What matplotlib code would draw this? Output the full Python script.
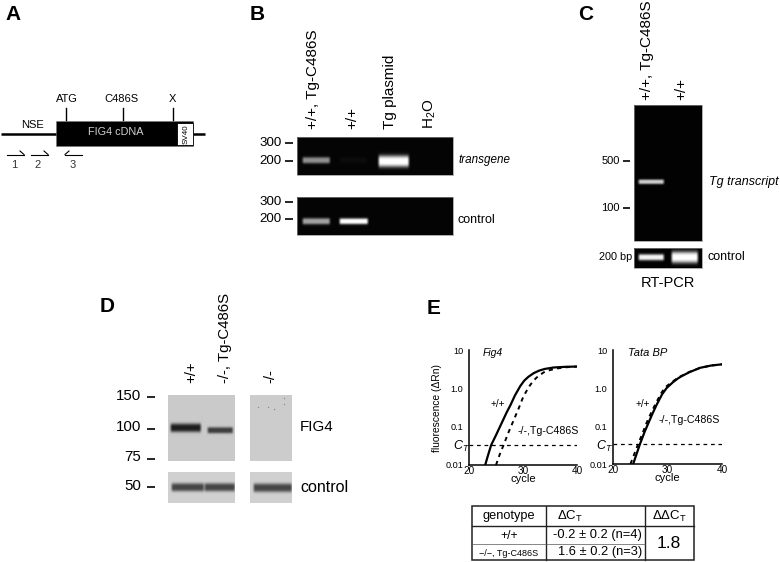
import numpy as np
import matplotlib
matplotlib.use("Agg")
import matplotlib.pyplot as plt
from matplotlib.patches import Rectangle

plt.rcParams["font.family"] = ["Liberation Sans", "DejaVu Sans"]
plt.rcParams["mathtext.fontset"] = "custom"
plt.rcParams["mathtext.rm"] = "Liberation Sans"
plt.rcParams["mathtext.it"] = "Liberation Sans:italic"

# Panel B gels, band brightness per lane
b_lane_labels = ["+/+, Tg-C486S", "+/+", "Tg plasmid", r"$\mathrm{H_2O}$"]
b_transgene = [0.55, 0.03, 1.0, 0.0]
b_control = [0.62, 1.0, 0.0, 0.0]
b_sizes_top = ["300", "200"]
b_sizes_bottom = ["300", "200"]

# Panel C gels
c_lane_labels = ["+/+, Tg-C486S", "+/+"]
c_transcript = [0.8, 0.0]
c_control = [0.95, 1.0]
c_sizes = ["500", "100"]

# Panel D blots (band darkness)
d_lane_labels = ["+/+", "-/-, Tg-C486S", "-/-"]
d_fig4 = [0.68, 0.55, 0.0]
d_control = [0.55, 0.55, 0.55]
d_sizes = ["150", "100", "75", "50"]

# Panel E, fluorescence curves
fig4_cycle = [23.0, 23.5, 24.1, 25.0, 26.0, 27.0, 27.7, 28.5, 29.5, 30.25, 31.0, 32.0, 33.0, 34.0, 35.7, 38.0, 40.0]
fig4_wt = [0.01, 0.0175, 0.033, 0.06, 0.12, 0.24, 0.37, 0.65, 1.15, 1.6, 2.0, 2.5, 2.9, 3.2, 3.5, 3.65, 3.7]
fig4_tg_cycle = [25.0, 25.7, 26.4, 27.2, 28.0, 29.2, 30.0, 31.0, 31.8, 32.5, 33.8, 35.0, 36.3, 38.0, 40.0]
fig4_tg = [0.01, 0.019, 0.033, 0.065, 0.12, 0.3, 0.58, 1.05, 1.5, 1.9, 2.6, 3.0, 3.3, 3.55, 3.7]
tata_cycle = [23.7, 24.9, 25.8, 26.5, 27.3, 28.0, 29.0, 29.85, 31.0, 32.0, 32.6, 34.0, 36.0, 38.0, 40.0]
tata_wt = [0.01, 0.032, 0.07, 0.12, 0.22, 0.36, 0.68, 1.0, 1.42, 1.82, 2.05, 2.6, 3.4, 3.9, 4.2]
tata_tg_cycle = [23.2, 24.6, 25.6, 26.2, 27.1, 27.8, 28.8, 29.6, 31.0, 32.0, 32.6, 34.0, 36.0, 38.0, 40.0]
tata_tg = [0.01, 0.033, 0.075, 0.125, 0.24, 0.38, 0.72, 1.05, 1.5, 1.9, 2.1, 2.65, 3.4, 3.9, 4.2]
ct_level = 0.033

# Panel E table
table_header = ["genotype", r"$\Delta\mathrm{C_T}$", r"$\Delta\Delta\mathrm{C_T}$"]
table_genotype = ["+/+", "\u2212/\u2212, Tg-C486S"]
table_delta = ["-0.2 \u00b1 0.2 (n=4)", "1.6 \u00b1 0.2 (n=3)"]
table_ddct = "1.8"


fig = plt.figure(figsize=(7.8, 5.62), dpi=100)
ax = fig.add_axes([0, 0, 1, 1])
ax.set_xlim(0, 780)
ax.set_ylim(562, 0)
ax.axis("off")


def text(x, y, s, size=8, ha="left", va="center", **kw):
    ax.text(x, y, s, fontsize=size, ha=ha, va=va, **kw)


def band_image(box, spans, ys, levels, half, bg, sign, border=True):
    # box is x0, x1, y0, y1 in figure pixels
    x0, x1, y0, y1 = box
    xx, yy = np.meshgrid(np.arange(x0, x1, 0.5), np.arange(y0, y1, 0.5))
    img = np.full(xx.shape, bg, dtype=float)
    for (a, b), yc, lev, h in zip(spans, ys, levels, half):
        hx = np.clip((xx - a) / 3, 0, 1) * np.clip((b - xx) / 3, 0, 1)
        hy = np.exp(-(np.abs(yy - yc) / h) ** 3)
        img = img + sign * lev * hx * hy
    ax.imshow(img, extent=(x0, x1, y1, y0), cmap="gray", vmin=0, vmax=1,
              aspect="auto", interpolation="bilinear", zorder=2)
    if border:
        ax.add_patch(Rectangle((x0, y0), x1 - x0, y1 - y0, fill=False,
                               ec="#8a8a8a", lw=0.5, zorder=3))


def dash(x0, x1, y, lw=1.2):
    ax.plot([x0, x1], [y, y], color="black", lw=lw, solid_capstyle="butt")


# Panel letters
for letter, x, y in [("A", 13, 14), ("B", 257, 14), ("C", 586, 14), ("D", 107, 307), ("E", 434, 308)]:
    text(x, y, letter, size=15, ha="center", weight="bold")


# Panel A
ax.plot([1, 205], [133.5, 133.5], color="black", lw=1.8, solid_capstyle="butt", zorder=1)
ax.add_patch(Rectangle((56, 121), 137, 25, fc="black", ec="#777777", lw=0.4, zorder=2))
ax.add_patch(Rectangle((177, 122.5), 16, 22.5, fc="white", ec="black", lw=0.6, zorder=3))
text(186, 134, "SV40", size=5.8, ha="center", rotation=90, zorder=4)
text(116, 132, "FIG4 cDNA", size=7.8, ha="center", color="#d0d0d0", zorder=4)
text(32, 125, "NSE", size=8, ha="center")
for x in [66, 123, 173]:
    ax.plot([x, x], [108, 120], color="black", lw=1.0)
text(67, 99.5, "ATG", size=8, ha="center")
text(121.5, 99.5, "C486S", size=8, ha="center")
text(172, 99.5, "X", size=8, ha="center")
for x0, x1, tip, s, sx in [(7, 24, 1, "1", 14), (31, 48, 1, "2", 38), (82, 65, -1, "3", 73)]:
    ax.plot([x0, x1], [154.5, 154.5], color="black", lw=0.8)
    ax.plot([x1 - tip * 4, x1], [151, 154.5], color="black", lw=0.8)
    text(sx, 165.5, s, size=8, ha="center", color="#333333")


# Panel B
b_spans_top = [(301, 331), (339, 368), (377, 410), (418, 448)]
b_spans_bottom = [(301, 331), (338, 369), (377, 410), (418, 448)]
band_image((297, 453, 137, 175), b_spans_top, [160, 160, 161, 160], b_transgene, [3.2, 3, 5.8, 3], 0.02, 1)
band_image((297, 453, 197, 235), b_spans_bottom, [221, 221, 221, 221], b_control, [3.2, 3, 3, 3], 0.02, 1)
for y, s in zip([143, 161], b_sizes_top):
    text(282, y, s, size=9.6, ha="right")
    dash(285, 293, y)
for y, s in zip([202, 219], b_sizes_bottom):
    text(282, y, s, size=9.6, ha="right")
    dash(285, 293, y)
for x, s in zip([313, 352, 390, 430], b_lane_labels):
    text(x, 129, s, size=11, ha="center", va="bottom", rotation=90)
text(458, 159.5, "transgene", size=8.4, style="italic")
text(458, 220, "control", size=9)


# Panel C
band_image((634, 702, 105, 241), [(637, 665), (671, 698)], [181.5, 181.5], c_transcript, [2.4, 2], 0.01, 1)
band_image((634, 702, 248, 268), [(637, 665), (670, 699)], [257, 257], c_control, [3.2, 5.8], 0.01, 1)
for y, s in zip([161, 208], c_sizes):
    text(620, y, s, size=8, ha="right")
    dash(623, 630, y)
for x, s in zip([647, 681], c_lane_labels):
    text(x, 100, s, size=11, ha="center", va="bottom", rotation=90)
text(709, 182, "Tg transcript", size=9, style="italic")
text(632, 257, "200 bp", size=7.8, ha="right")
text(708, 257, "control", size=9)
text(668, 283, "RT-PCR", size=10.5, ha="center")


# Panel D
band_image((168, 235, 395, 461), [(169, 202), (206, 234)], [427.5, 430], d_fig4[:2], [4.4, 3.2], 0.79, -1, border=False)
band_image((250, 292, 395, 461), [(250, 292)], [430], d_fig4[2:], [3], 0.8, -1, border=False)
band_image((168, 235, 472, 503), [(170, 205), (203, 236)], [487, 487], d_control[:2], [4.2, 4.2], 0.82, -1, border=False)
band_image((250, 292, 472, 503), [(252, 293)], [487.5], d_control[2:], [4.4], 0.82, -1, border=False)
speck_x = [258, 268, 274, 284, 284]
speck_y = [407, 407, 409, 398, 404]
ax.scatter(speck_x, speck_y, s=1.0, color="#8a8a8a", lw=0, zorder=4)
for y, s in zip([396.5, 427, 457, 486], d_sizes):
    text(141, y, s, size=10.8, ha="right")
for y in [397, 429, 459, 487]:
    dash(147, 155, y)
for x, s in zip([191, 225, 270], d_lane_labels):
    text(x, 383, s, size=10.8, ha="center", va="bottom", rotation=90)
text(300, 427, "FIG4", size=11)
text(300, 487, "control", size=11.5)


# Panel E, the two qPCR plots
def qpcr(left, right, top, bottom, cyc, wt, cyc_tg, tg):
    a = fig.add_axes([left / 780, 1 - bottom / 562, (right - left) / 780, (bottom - top) / 562])
    a.patch.set_alpha(0)
    a.plot(cyc, wt, color="black", lw=1.6)
    a.plot(cyc_tg, tg, color="black", lw=1.4, ls=(0, (2.2, 2.2)))
    a.axhline(ct_level, color="black", lw=0.9, ls=(0, (3, 3)))
    a.set_yscale("log")
    a.set_xlim(20, 40)
    a.set_ylim(0.01, 10)
    a.set_xticks([20, 30, 40])
    a.set_yticks([0.01, 0.1, 1, 10])
    a.set_yticklabels(["0.01", "0.1", "1.0", "10"], fontsize=6.6)
    a.set_xticklabels(["20", "30", "40"], fontsize=7.2)
    a.minorticks_off()
    a.tick_params(axis="y", length=0, pad=4)
    a.tick_params(axis="x", length=0, pad=0.5)
    a.spines["top"].set_visible(False)
    a.spines["right"].set_visible(False)
    a.spines["left"].set_linewidth(1.1)
    a.spines["bottom"].set_linewidth(1.1)
    a.set_xlabel("cycle", fontsize=8, labelpad=-1)
    return a


qpcr(469, 577, 350, 465, fig4_cycle, fig4_wt, fig4_tg_cycle, fig4_tg)
qpcr(613, 722, 350, 464, tata_cycle, tata_wt, tata_tg_cycle, tata_tg)
text(483, 353, "Fig4", size=7.5, style="italic")
text(628, 353, "Tata BP", size=8, style="italic")
text(437, 408, "fluorescence (\u0394Rn)", size=7.4, ha="center", rotation=90)
text(491, 404, "+/+", size=7.2)
text(518, 431, "-/-,Tg-C486S", size=7.7)
text(636, 404, "+/+", size=7.2)
text(659, 420, "-/-,Tg-C486S", size=7.7)
text(461, 446, r"$\mathit{C_T}$", size=9, ha="center")
text(604, 446, r"$\mathit{C_T}$", size=9, ha="center")


# Panel E table
ax.add_patch(Rectangle((472, 506), 222, 54, fill=False, ec="#222222", lw=1.1))
for x in [546, 645]:
    ax.plot([x, x], [506, 560], color="#222222", lw=1.0)
ax.plot([472, 694], [526, 526], color="#222222", lw=1.0)
ax.plot([472, 645], [544, 544], color="#555555", lw=0.5)
text(508.5, 515.5, table_header[0], size=9.2, ha="center")
text(570, 516, table_header[1], size=9.5, ha="center")
text(669, 516, table_header[2], size=9.5, ha="center")
text(509, 536, table_genotype[0], size=8.8, ha="center")
text(509, 553, table_genotype[1], size=6.5, ha="center")
text(597, 535, table_delta[0], size=9.3, ha="center")
text(600, 552.5, table_delta[1], size=9.3, ha="center")
text(669, 544, table_ddct, size=12.5, ha="center")

ax.set_xlim(0, 780)
ax.set_ylim(562, 0)

plt.savefig("out.png", dpi=100)
